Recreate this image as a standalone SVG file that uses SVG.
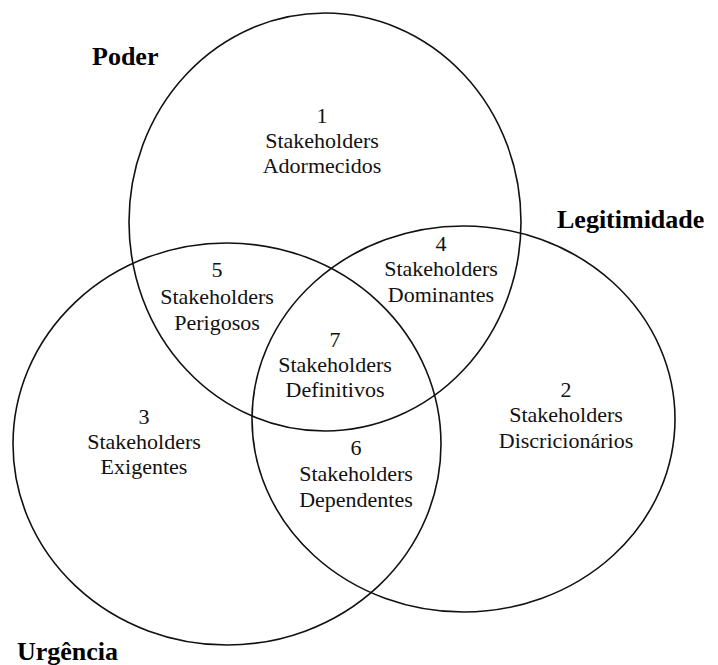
<svg xmlns="http://www.w3.org/2000/svg" width="718" height="665" viewBox="0 0 718 665">
<style>
.c{fill:none;stroke:#111;stroke-width:1.6}
.t{font-family:'Liberation Serif','DejaVu Serif',serif;font-size:22px;fill:#111;text-anchor:middle}
.h{font-family:'Liberation Serif','DejaVu Serif',serif;font-size:26px;font-weight:bold;fill:#000}
</style>
<rect width="718" height="665" fill="#fff"/>
<g id="sets">
<ellipse id="poder" class="c" cx="325" cy="222" rx="196" ry="209"/>
<ellipse id="legitimidade" class="c" cx="463.5" cy="419" rx="211.5" ry="193"/>
<ellipse id="urgencia" class="c" cx="227" cy="444" rx="214" ry="201"/>
</g>
<g id="labels">
<text class="h" x="92" y="65">Poder</text>
<text class="h" x="557" y="228">Legitimidade</text>
<text class="h" x="17" y="660">Urgência</text>
</g>
<g id="r1"><text class="t" x="322" y="123">1</text><text class="t" x="322" y="148">Stakeholders</text><text class="t" x="322" y="173">Adormecidos</text></g>
<g id="r2"><text class="t" x="566" y="397">2</text><text class="t" x="566" y="422">Stakeholders</text><text class="t" x="566" y="448">Discricionários</text></g>
<g id="r3"><text class="t" x="144" y="424">3</text><text class="t" x="144" y="449">Stakeholders</text><text class="t" x="144" y="474">Exigentes</text></g>
<g id="r4"><text class="t" x="441" y="251">4</text><text class="t" x="441" y="276">Stakeholders</text><text class="t" x="441" y="302">Dominantes</text></g>
<g id="r5"><text class="t" x="217" y="277">5</text><text class="t" x="217" y="304">Stakeholders</text><text class="t" x="217" y="330">Perigosos</text></g>
<g id="r6"><text class="t" x="356" y="455">6</text><text class="t" x="356" y="481">Stakeholders</text><text class="t" x="356" y="507">Dependentes</text></g>
<g id="r7"><text class="t" x="335" y="347">7</text><text class="t" x="335" y="372">Stakeholders</text><text class="t" x="335" y="397">Definitivos</text></g>
</svg>
